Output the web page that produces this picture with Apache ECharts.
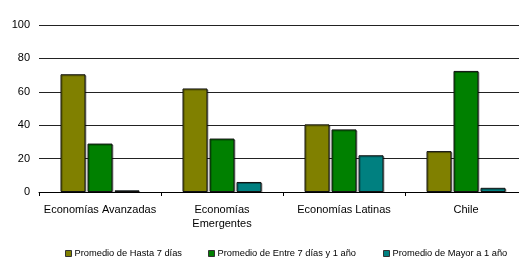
<!DOCTYPE html>
<html>
<head>
<meta charset="utf-8">
<script src="https://cdn.jsdelivr.net/npm/echarts@6/dist/echarts.min.js"></script>
<style>
  html, body { margin: 0; padding: 0; background: #fff; }
  #chart { width: 519px; height: 259px; }
</style>
</head>
<body>
<div id="chart"></div>
<script>
const categories = ['Economías Avanzadas', 'Economías\nEmergentes', 'Economías Latinas', 'Chile']
const seriesNames = ['Promedio de Hasta 7 días', 'Promedio de Entre 7 días y 1 año', 'Promedio de Mayor a 1 año']
const hasta7 = [70.5, 62, 40.5, 24.5]
const entre7y1 = [29, 32, 37.5, 72.5]
const mayor1 = [1, 6, 22, 2.5]

const chart = echarts.init(document.getElementById('chart'))

const barStyle = (color) => ({
  color: color,
  borderColor: '#111',
  borderWidth: 1,
  shadowColor: 'rgba(0,0,0,0.35)',
  shadowOffsetX: 1,
  shadowOffsetY: 1
})

// excel puts legend items in fixed slots, so one legend per item
const legendLeft = [65, 208, 383]
const legends = seriesNames.map((name, i) => ({
  data: [name],
  left: legendLeft[i],
  top: 249,
  padding: 0,
  itemWidth: 6,
  itemHeight: 6,
  icon: 'rect',
  itemStyle: { borderColor: '#333', borderWidth: 1 },
  textStyle: { fontSize: 9.3, color: '#000', padding: [0, 0, 0, -2] }
}))

chart.setOption({
  animation: false,
  textStyle: { fontFamily: 'Liberation Sans, Arial, sans-serif' },
  grid: { left: 39, top: 25, width: 488, height: 167, outerBoundsMode: 'none' },
  legend: legends,
  xAxis: {
    type: 'category',
    data: categories,
    axisLine: { lineStyle: { color: '#000', width: 1 } },
    axisTick: { show: true, length: 4, lineStyle: { color: '#000' } },
    axisLabel: { color: '#000', fontSize: 11, margin: 11, interval: 0, lineHeight: 14 }
  },
  yAxis: {
    type: 'value',
    min: 0,
    max: 100,
    interval: 20,
    axisLine: { show: false },
    axisTick: { show: false },
    axisLabel: { color: '#000', fontSize: 11, margin: 9 },
    splitLine: { lineStyle: { color: '#222', width: 1 } }
  },
  series: [
    {
      name: seriesNames[0],
      type: 'bar',
      data: hasta7,
      barWidth: 25,
      barGap: '8%',
      itemStyle: barStyle('#808000')
    },
    {
      name: seriesNames[1],
      type: 'bar',
      data: entre7y1,
      barWidth: 25,
      barGap: '8%',
      itemStyle: barStyle('#008000')
    },
    {
      name: seriesNames[2],
      type: 'bar',
      data: mayor1,
      barWidth: 25,
      barGap: '8%',
      itemStyle: barStyle('#008080')
    }
  ]
})
</script>
</body>
</html>
